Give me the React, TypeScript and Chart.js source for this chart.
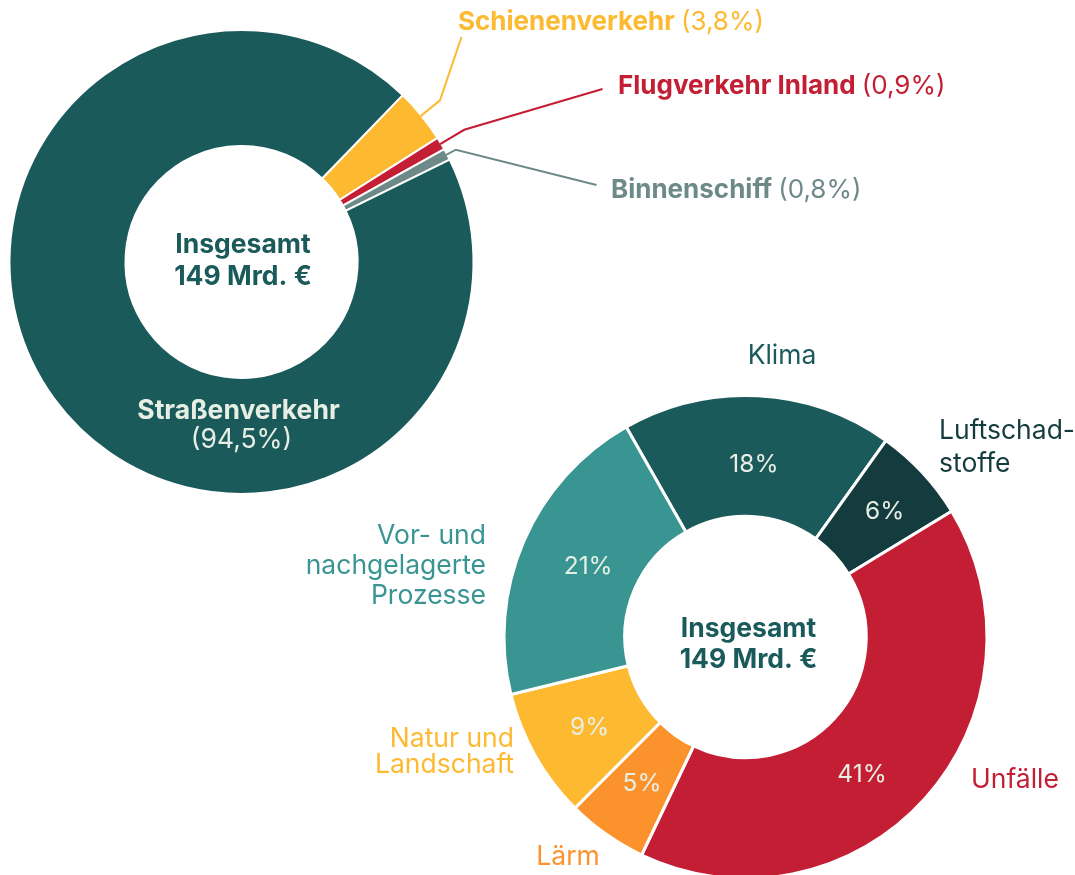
import React, { useEffect, useRef } from "react";
import { Chart, registerables } from "chart.js";

Chart.register(...registerables);

// ---------- data ----------
const modeLabels = ["Schienenverkehr", "Flugverkehr Inland", "Binnenschiff", "Straßenverkehr"];
const modeShares = [3.8, 0.9, 0.8, 94.5];
const modeColors = ["#fdb92f", "#c41e34", "#6d8a88", "#1b5a5a"];

const costLabels = ["Klima", "Luftschad-\nstoffe", "Unfälle", "Lärm", "Natur und\nLandschaft", "Vor- und\nnachgelagerte\nProzesse"];
const costShares = [18.1, 6.4, 40.8, 5.4, 8.7, 20.6];
const costColors = ["#1b5a5a", "#143b3d", "#c41e34", "#fc922b", "#fdb92f", "#389592"];

const totalLines = ["Insgesamt", "149 Mrd. €"];

// ---------- layout / style ----------
const PAGE_W = 1075;
const PAGE_H = 875;
const FAMILY = "Inter, 'Noto Sans', sans-serif";
const font = (w: number, s: number) => `${w} ${s}px ${FAMILY}`;
const CENTER_COLOR = "#1b5a5a";
const INNER_TEXT = "#e7efe5";

type Geo = { cx: number; cy: number; r: number; border: number; rotation: number; w: number; h: number };
const GEO1: Geo = { cx: 241.5, cy: 262, r: 232, border: 2, rotation: 44, w: PAGE_W, h: PAGE_H };
const GEO2: Geo = { cx: 745.5, cy: 637, r: 241.5, border: 3, rotation: -29.6, w: PAGE_W, h: 900 };

// callouts of the small slices of chart 1 (relative to chart centre)
const modeCallouts = [
  { elbow: 24, end: [220, -225], text: [216.5, -232.5] },
  { elbow: 27, end: [361, -173], text: [376.5, -168] },
  { elbow: 10, end: [355, -77], text: [369.5, -64] },
];
const modeMainLabel = { name: [-3, 157], value: [0, 186] };
const center1 = { dx: 1.5, base: [-9, 23] };
const center2 = { dx: 3, base: [0, 31] };

const costLabelPos: { x: number; y: number; align: CanvasTextAlign; lh: number }[] = [
  { x: 36.5, y: -273.5, align: "center", lh: 30 },
  { x: 193.5, y: -198, align: "left", lh: 33 },
  { x: 225.5, y: 151, align: "left", lh: 30 },
  { x: -177.5, y: 228, align: "center", lh: 30 },
  { x: -231.5, y: 110, align: "right", lh: 26 },
  { x: -259.5, y: -93, align: "right", lh: 30 },
];
const pctNudge = [
  [-1, 9],
  [6.5, -2],
  [-18, 16],
  [1, -1],
  [2, 2],
  [9, 1],
];

const fmtShare = (v: number) => `(${v.toFixed(1).replace(".", ",")}%)`;

function padFor(g: Geo) {
  const size = 2 * g.r + g.border;
  const left = g.cx - size / 2;
  const top = g.cy - size / 2;
  return { left, top, right: g.w - left - size, bottom: g.h - top - size };
}

function drawCenter(ctx: CanvasRenderingContext2D, x: number, y: number, c: { dx: number; base: number[] }) {
  ctx.fillStyle = CENTER_COLOR;
  ctx.font = font(700, 26.5);
  ctx.textAlign = "center";
  ctx.textBaseline = "alphabetic";
  totalLines.forEach((t, i) => ctx.fillText(t, x + c.dx, y + c.base[i]));
}

const modePlugin = {
  id: "modeLabels",
  afterDatasetsDraw(chart: any) {
    const ctx: CanvasRenderingContext2D = chart.ctx;
    const arcs = chart.getDatasetMeta(0).data;
    const cx = arcs[0].x;
    const cy = arcs[0].y;
    ctx.save();
    drawCenter(ctx, cx, cy, center1);
    // callouts
    modeCallouts.forEach((c, i) => {
      const a = arcs[i];
      const mid = (a.startAngle + a.endAngle) / 2;
      const R = a.outerRadius;
      ctx.strokeStyle = modeColors[i];
      ctx.lineWidth = 2;
      ctx.beginPath();
      ctx.moveTo(cx + Math.cos(mid) * (R - 1), cy + Math.sin(mid) * (R - 1));
      ctx.lineTo(cx + Math.cos(mid) * (R + c.elbow), cy + Math.sin(mid) * (R + c.elbow));
      ctx.lineTo(cx + c.end[0], cy + c.end[1]);
      ctx.stroke();
      ctx.fillStyle = modeColors[i];
      ctx.textAlign = "left";
      ctx.textBaseline = "alphabetic";
      ctx.font = font(700, 26);
      const name = modeLabels[i];
      const tx = cx + c.text[0];
      const ty = cy + c.text[1];
      ctx.fillText(name, tx, ty);
      const w = ctx.measureText(name + " ").width;
      ctx.font = font(400, 26);
      ctx.fillText(fmtShare(modeShares[i]), tx + w, ty);
    });
    // main slice label
    ctx.fillStyle = INNER_TEXT;
    ctx.textAlign = "center";
    ctx.font = font(700, 26.5);
    ctx.fillText(modeLabels[3], cx + modeMainLabel.name[0], cy + modeMainLabel.name[1]);
    ctx.font = font(400, 26.5);
    ctx.fillText(fmtShare(modeShares[3]), cx + modeMainLabel.value[0], cy + modeMainLabel.value[1]);
    ctx.restore();
  },
};

const costPlugin = {
  id: "costLabels",
  afterDatasetsDraw(chart: any) {
    const ctx: CanvasRenderingContext2D = chart.ctx;
    const arcs = chart.getDatasetMeta(0).data;
    const cx = arcs[0].x;
    const cy = arcs[0].y;
    ctx.save();
    drawCenter(ctx, cx, cy, center2);
    arcs.forEach((a: any, i: number) => {
      const mid = (a.startAngle + a.endAngle) / 2;
      const rm = (a.innerRadius + a.outerRadius) / 2;
      ctx.fillStyle = INNER_TEXT;
      ctx.font = font(400, 24.5);
      ctx.textAlign = "center";
      ctx.textBaseline = "middle";
      ctx.fillText(`${Math.round(costShares[i])}%`, cx + Math.cos(mid) * rm + pctNudge[i][0], cy + Math.sin(mid) * rm + pctNudge[i][1]);
      const p = costLabelPos[i];
      ctx.fillStyle = costColors[i];
      ctx.font = font(400, 26.5);
      ctx.textAlign = p.align;
      ctx.textBaseline = "alphabetic";
      costLabels[i].split("\n").forEach((line, k) => ctx.fillText(line, cx + p.x, cy + p.y + k * p.lh));
    });
    ctx.restore();
  },
};

function makeChart(canvas: HTMLCanvasElement, g: Geo, labels: string[], data: number[], colors: string[], plugin: any) {
  return new Chart(canvas, {
    type: "doughnut",
    data: {
      labels,
      datasets: [
        {
          data,
          backgroundColor: colors,
          borderColor: "#ffffff",
          borderWidth: g.border,
          hoverBorderWidth: g.border,
          hoverOffset: 0,
          offset: 0,
        },
      ],
    },
    options: {
      responsive: false,
      animation: false,
      cutout: "50%",
      rotation: g.rotation,
      layout: { padding: padFor(g) },
      events: [],
      plugins: { legend: { display: false }, tooltip: { enabled: false } },
    },
    plugins: [plugin],
  } as any);
}

export default function App() {
  const ref1 = useRef<HTMLCanvasElement>(null);
  const ref2 = useRef<HTMLCanvasElement>(null);
  useEffect(() => {
    const c1 = makeChart(ref1.current!, GEO1, modeLabels, modeShares, modeColors, modePlugin);
    const c2 = makeChart(ref2.current!, GEO2, costLabels, costShares, costColors, costPlugin);
    return () => {
      c1.destroy();
      c2.destroy();
    };
  }, []);
  return (
    <div style={{ position: "absolute", left: 0, top: 0, width: PAGE_W, height: PAGE_H, overflow: "hidden", background: "#fff" }}>
      <canvas ref={ref1} width={GEO1.w} height={GEO1.h} style={{ position: "absolute", left: 0, top: 0 }} />
      <canvas ref={ref2} width={GEO2.w} height={GEO2.h} style={{ position: "absolute", left: 0, top: 0 }} />
    </div>
  );
}
